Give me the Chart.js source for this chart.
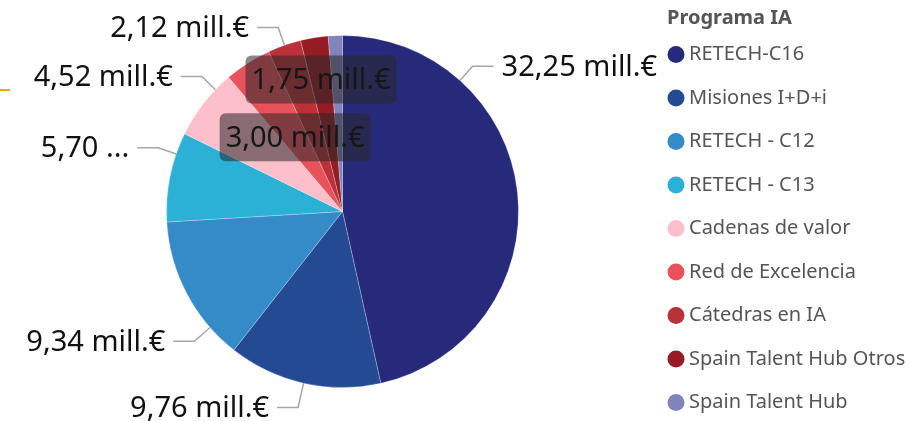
<!DOCTYPE html>
<html>
<head>
<meta charset="utf-8">
<script src="https://cdn.jsdelivr.net/npm/chart.js@4"></script>
<style>
  html, body { margin: 0; padding: 0; background: #fff; }
  #wrap { position: relative; width: 912px; height: 421px; }
  #mark { position: absolute; left: 0; top: 89px; width: 10px; height: 2px; background: #F2A31B; }
</style>
</head>
<body>
<div id="wrap">
  <canvas id="myChart" width="912" height="421"></canvas>
  <div id="mark"></div>
</div>
<script>
// datos del gráfico
const programas = ['RETECH-C16', 'Misiones I+D+i', 'RETECH - C12', 'RETECH - C13', 'Cadenas de valor',
  'Red de Excelencia', 'Cátedras en IA', 'Spain Talent Hub Otros', 'Spain Talent Hub'];
const importes = [32.25, 9.76, 9.34, 5.70, 4.52, 3.00, 2.12, 1.75, 0.9];   // mill.€
const colores = ['#27297A', '#254A94', '#348BC7', '#2BB0D6', '#FDBFCA',
  '#E8525B', '#BA3139', '#951C25', '#8184BA'];
const tituloLeyenda = 'Programa IA';

// posición de las etiquetas (out = fuera con línea, in = caja dentro, null = sin etiqueta)
const etiquetas = [
  { modo: 'out', t: 0.25 },
  { modo: 'out', t: 0.5, len: 25 },
  { modo: 'out', t: 0.22, len: 21 },
  { modo: 'out', t: 0.76, corta: true },
  { modo: 'out', t: 0.75 },
  { modo: 'in', t: 0.5, r: 0.5 },
  { modo: 'out', t: 0.5 },
  { modo: 'in', t: 0.5, r: 0.76 },
  null
];

const fmt = v => v.toFixed(2).replace('.', ',') + ' mill.€';
const FONT_LBL = '29px "Noto Sans", "Open Sans", sans-serif';

const labelPlugin = {
  id: 'pieLabels',
  afterDatasetsDraw(chart) {
    const ctx = chart.ctx;
    const arcs = chart.getDatasetMeta(0).data;
    ctx.save();
    ctx.font = FONT_LBL;
    ctx.textBaseline = 'middle';
    arcs.forEach((arc, i) => {
      const cfg = etiquetas[i];
      if (!cfg) return;
      const { x, y, startAngle, endAngle, outerRadius } = arc.getProps(['x', 'y', 'startAngle', 'endAngle', 'outerRadius'], true);
      const a = startAngle + cfg.t * (endAngle - startAngle);
      const cos = Math.cos(a), sin = Math.sin(a);
      let txt = fmt(importes[i]);
      if (cfg.corta) txt = txt.split(' ')[0] + ' ...';
      if (cfg.modo === 'out') {
        const dir = cos >= 0 ? 1 : -1;
        const len = cfg.len || 19;
        const x0 = x + outerRadius * cos, y0 = y + outerRadius * sin;
        const x1 = x + (outerRadius + len) * cos, y1 = y + (outerRadius + len) * sin;
        const x2 = x1 + dir * 21;
        ctx.strokeStyle = '#a6a6a6';
        ctx.lineWidth = 1.5;
        ctx.beginPath();
        ctx.moveTo(x0, y0);
        ctx.lineTo(x1, y1);
        ctx.lineTo(x2, y1);
        ctx.stroke();
        ctx.fillStyle = '#111';
        ctx.textAlign = dir > 0 ? 'left' : 'right';
        ctx.fillText(txt, x2 + dir * 8, y1 + 1);
      } else {
        const cx = x + outerRadius * cfg.r * cos, cy = y + outerRadius * cfg.r * sin;
        const w = ctx.measureText(txt).width + 12, h = 48;
        ctx.fillStyle = 'rgba(40,40,40,0.55)';
        ctx.beginPath();
        ctx.roundRect(cx - w / 2, cy - h / 2, w, h, 6);
        ctx.fill();
        ctx.fillStyle = '#161616';
        ctx.textAlign = 'center';
        ctx.fillText(txt, cx, cy + 1);
      }
    });
    ctx.restore();
  }
};

const legendPlugin = {
  id: 'sideLegend',
  afterDraw(chart) {
    const ctx = chart.ctx;
    ctx.save();
    ctx.textBaseline = 'middle';
    ctx.textAlign = 'left';
    ctx.fillStyle = '#555';
    ctx.font = 'bold 20px "Noto Sans", "Open Sans", sans-serif';
    ctx.fillText(tituloLeyenda, 667, 18);
    ctx.font = '20px "Noto Sans", "Open Sans", sans-serif';
    programas.forEach((p, i) => {
      const cy = 54.6 + i * 43.5;
      ctx.fillStyle = colores[i];
      ctx.beginPath();
      ctx.arc(676, cy, 8.5, 0, Math.PI * 2);
      ctx.fill();
      ctx.fillStyle = '#555';
      ctx.fillText(p, 689, cy);
    });
    ctx.restore();
  }
};

const ctx = document.getElementById('myChart').getContext('2d');
const myChart = new Chart(ctx, {
  type: 'pie',
  data: {
    labels: programas,
    datasets: [{
      data: importes,
      backgroundColor: colores,
      borderColor: 'rgba(255,255,255,0.25)',
      borderWidth: 1
    }]
  },
  options: {
    responsive: false,
    animation: false,
    layout: { padding: { left: 166, right: 393, top: 35, bottom: 33 } },
    plugins: {
      legend: { display: false },
      tooltip: { enabled: false }
    }
  },
  plugins: [labelPlugin, legendPlugin]
});
</script>
</body>
</html>
